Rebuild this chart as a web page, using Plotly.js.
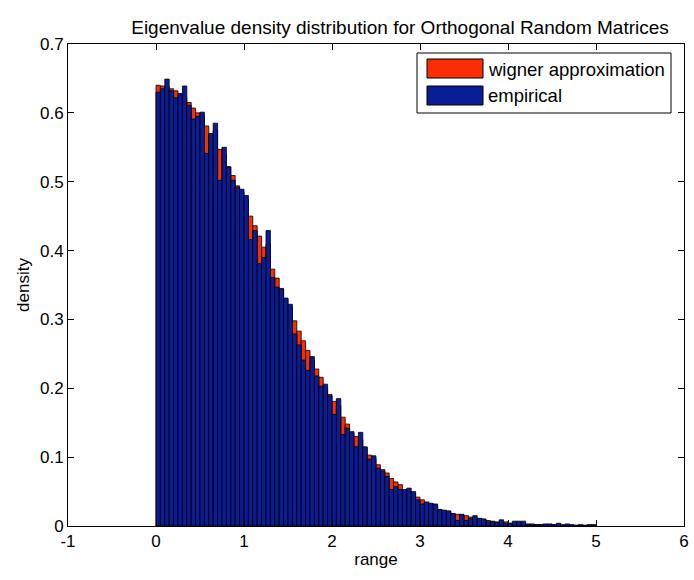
<!DOCTYPE html>
<html>
<head>
<meta charset="utf-8">
<script src="https://cdn.plot.ly/plotly-3.0.1.min.js"></script>
<style>html,body{margin:0;padding:0;background:#fff;}#chart{width:694px;height:580px;}</style>
</head>
<body>
<div id="chart"></div>
<script>
// Bin centres (bin width 0.05, from 0 to 5)
const binCenters = [
 0.025,0.075,0.125,0.175,0.225,0.275,0.325,0.375,0.425,0.475,
 0.525,0.575,0.625,0.675,0.725,0.775,0.825,0.875,0.925,0.975,
 1.025,1.075,1.125,1.175,1.225,1.275,1.325,1.375,1.425,1.475,
 1.525,1.575,1.625,1.675,1.725,1.775,1.825,1.875,1.925,1.975,
 2.025,2.075,2.125,2.175,2.225,2.275,2.325,2.375,2.425,2.475,
 2.525,2.575,2.625,2.675,2.725,2.775,2.825,2.875,2.925,2.975,
 3.025,3.075,3.125,3.175,3.225,3.275,3.325,3.375,3.425,3.475,
 3.525,3.575,3.625,3.675,3.725,3.775,3.825,3.875,3.925,3.975,
 4.025,4.075,4.125,4.175,4.225,4.275,4.325,4.375,4.425,4.475,
 4.525,4.575,4.625,4.675,4.725,4.775,4.825,4.875,4.925,4.975];
const binWidth = 0.05;

const wignerApprox = [
 0.640,0.639,0.638,0.635,0.632,0.625,0.622,0.615,0.607,0.600,
 0.595,0.581,0.569,0.575,0.547,0.540,0.522,0.509,0.494,0.485,
 0.475,0.450,0.436,0.421,0.405,0.410,0.373,0.360,0.345,0.330,
 0.318,0.298,0.283,0.269,0.255,0.240,0.228,0.216,0.200,0.191,
 0.181,0.175,0.158,0.148,0.135,0.130,0.125,0.114,0.103,0.098,
 0.089,0.082,0.077,0.069,0.064,0.060,0.052,0.050,0.048,0.042,
 0.038,0.034,0.032,0.030,0.024,0.022,0.021,0.018,0.017,0.016,
 0.015,0.013,0.012,0.011,0.010,0.008,0.007,0.006,0.006,0.006,
 0.004,0.004,0.004,0.003,0.003,0.003,0.002,0.002,0.002,0.002,
 0.002,0.002,0.001,0.001,0.001,0.001,0.001,0.001,0.001,0.001];

const empirical = [
 0.630,0.635,0.649,0.632,0.622,0.628,0.639,0.611,0.591,0.595,
 0.601,0.541,0.570,0.585,0.502,0.550,0.521,0.502,0.492,0.489,
 0.480,0.416,0.429,0.381,0.390,0.429,0.361,0.347,0.344,0.331,
 0.322,0.279,0.263,0.241,0.226,0.246,0.218,0.203,0.206,0.189,
 0.162,0.185,0.133,0.142,0.137,0.115,0.136,0.115,0.097,0.102,
 0.084,0.080,0.072,0.053,0.057,0.053,0.053,0.055,0.050,0.038,
 0.032,0.035,0.033,0.032,0.024,0.023,0.022,0.018,0.008,0.017,
 0.008,0.011,0.015,0.011,0.010,0.006,0.006,0.005,0.009,0.004,
 0.004,0.007,0.007,0.007,0.002,0.002,0.002,0.002,0.003,0.003,
 0.002,0.004,0.002,0.003,0.002,0.001,0.002,0.001,0.002,0.002];

const seriesNames = ['wigner approximation', 'empirical'];
const titleText = 'Eigenvalue density distribution for Orthogonal Random Matrices';
const xTickVals = [-1,0,1,2,3,4,5,6];
const xTickText = ['-1','0','1','2','3','4','5','6'];
const yTickVals = [0,0.1,0.2,0.3,0.4,0.5,0.6,0.7];
const yTickText = ['0','0.1','0.2','0.3','0.4','0.5','0.6','0.7'];

const RED = 'rgb(250,45,5)';
const BLUE = 'rgb(10,28,150)';
const FONT = 'Liberation Sans, Arial, Helvetica, sans-serif';

const traces = [
  {type:'bar', x:binCenters, y:wignerApprox, width:binWidth, name:seriesNames[0],
   marker:{color:RED, line:{color:'#000', width:0.8}}, showlegend:false, hoverinfo:'x+y'},
  {type:'bar', x:binCenters, y:empirical, width:binWidth, name:seriesNames[1],
   marker:{color:BLUE, line:{color:'#000', width:0.8}}, showlegend:false, hoverinfo:'x+y'}
];

// plot area in pixels
const L = 68, R = 684, T = 44, B = 526;
const W = 694, H = 580;
function px2x(p){ return (p - L) / (R - L); }
function px2y(p){ return (B - p) / (B - T); }

const legX0 = 417, legX1 = 671, legY0 = 53, legY1 = 113;
const shapes = [
  {type:'rect', xref:'paper', yref:'paper', x0:px2x(legX0), x1:px2x(legX1), y0:px2y(legY1), y1:px2y(legY0),
   line:{color:'#000', width:1}, fillcolor:'#fff', layer:'above'},
  {type:'rect', xref:'paper', yref:'paper', x0:px2x(427), x1:px2x(483), y0:px2y(78), y1:px2y(59),
   line:{color:'#000', width:1}, fillcolor:RED, layer:'above'},
  {type:'rect', xref:'paper', yref:'paper', x0:px2x(427), x1:px2x(483), y0:px2y(105), y1:px2y(86),
   line:{color:'#000', width:1}, fillcolor:BLUE, layer:'above'}
];
const annotations = [
  {xref:'paper', yref:'paper', x:px2x(486), y:px2y(69), text:seriesNames[0], showarrow:false,
   xanchor:'left', yanchor:'middle', font:{family:FONT, size:18.5, color:'#000'}},
  {xref:'paper', yref:'paper', x:px2x(486), y:px2y(96), text:seriesNames[1], showarrow:false,
   xanchor:'left', yanchor:'middle', font:{family:FONT, size:18.5, color:'#000'}}
];

const layout = {
  width:W, height:H,
  margin:{l:L, r:W-R, t:T, b:H-B},
  paper_bgcolor:'#fff', plot_bgcolor:'#fff',
  barmode:'overlay', bargap:0,
  font:{family:FONT, size:17, color:'#000'},
  title:{text:titleText, x:400/W, xanchor:'center', y:1-27/H, yanchor:'middle',
         font:{family:FONT, size:19, color:'#000'}},
  xaxis:{range:[-1,6], tickvals:xTickVals, ticktext:xTickText, ticks:'inside', ticklen:6,
         tickcolor:'#000', showline:true, linecolor:'#000', linewidth:1, mirror:'ticks',
         showgrid:false, zeroline:false, tickfont:{family:FONT, size:17},
         title:{text:'range', font:{family:FONT, size:17}, standoff:2}},
  yaxis:{range:[0,0.7], tickvals:yTickVals, ticktext:yTickText, ticks:'inside', ticklen:6,
         tickcolor:'#000', showline:true, linecolor:'#000', linewidth:1, mirror:'ticks',
         showgrid:false, zeroline:false, tickfont:{family:FONT, size:17},
         title:{text:'density', font:{family:FONT, size:17}, standoff:6}},
  shapes:shapes,
  annotations:annotations,
  showlegend:false
};

Plotly.newPlot('chart', traces, layout, {displayModeBar:false, staticPlot:true});
</script>
</body>
</html>
